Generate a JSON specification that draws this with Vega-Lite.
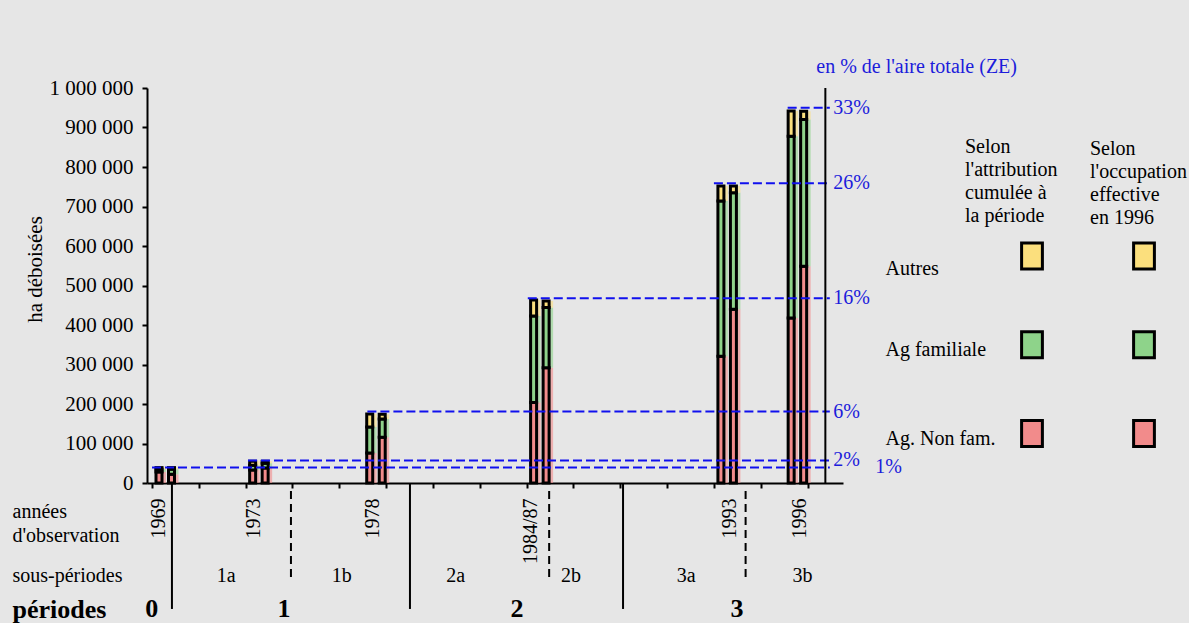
{
"$schema": "https://vega.github.io/schema/vega-lite/v6.json",
"background": "#e6e6e6",
"autosize": {"type": "pad"},
"padding": {"left": 12, "top": 57, "right": 2, "bottom": 0},
"columns": 2,
"spacing": {"row": 0, "column": 189},
"bounds": "flush",
"align": "each",
"resolve": {"scale": {"x": "independent", "y": "independent", "fill": "independent"}},
"datasets": {
"barres": [
{"annee": "1969", "an": 1969, "serie": "attribution", "cat": "Ag. Non fam.", "rang": 1, "ha": 28000},
{"annee": "1969", "an": 1969, "serie": "attribution", "cat": "Ag familiale", "rang": 2, "ha": 7000},
{"annee": "1969", "an": 1969, "serie": "attribution", "cat": "Autres", "rang": 3, "ha": 4000},
{"annee": "1969", "an": 1969, "serie": "occupation", "cat": "Ag. Non fam.", "rang": 1, "ha": 22000},
{"annee": "1969", "an": 1969, "serie": "occupation", "cat": "Ag familiale", "rang": 2, "ha": 13000},
{"annee": "1969", "an": 1969, "serie": "occupation", "cat": "Autres", "rang": 3, "ha": 4000},
{"annee": "1973", "an": 1973, "serie": "attribution", "cat": "Ag. Non fam.", "rang": 1, "ha": 33000},
{"annee": "1973", "an": 1973, "serie": "attribution", "cat": "Ag familiale", "rang": 2, "ha": 12000},
{"annee": "1973", "an": 1973, "serie": "attribution", "cat": "Autres", "rang": 3, "ha": 10000},
{"annee": "1973", "an": 1973, "serie": "occupation", "cat": "Ag. Non fam.", "rang": 1, "ha": 38000},
{"annee": "1973", "an": 1973, "serie": "occupation", "cat": "Ag familiale", "rang": 2, "ha": 12000},
{"annee": "1973", "an": 1973, "serie": "occupation", "cat": "Autres", "rang": 3, "ha": 5000},
{"annee": "1978", "an": 1978, "serie": "attribution", "cat": "Ag. Non fam.", "rang": 1, "ha": 76000},
{"annee": "1978", "an": 1978, "serie": "attribution", "cat": "Ag familiale", "rang": 2, "ha": 66000},
{"annee": "1978", "an": 1978, "serie": "attribution", "cat": "Autres", "rang": 3, "ha": 33000},
{"annee": "1978", "an": 1978, "serie": "occupation", "cat": "Ag. Non fam.", "rang": 1, "ha": 116000},
{"annee": "1978", "an": 1978, "serie": "occupation", "cat": "Ag familiale", "rang": 2, "ha": 46000},
{"annee": "1978", "an": 1978, "serie": "occupation", "cat": "Autres", "rang": 3, "ha": 12000},
{"annee": "1984/87", "an": 1985, "serie": "attribution", "cat": "Ag. Non fam.", "rang": 1, "ha": 204000},
{"annee": "1984/87", "an": 1985, "serie": "attribution", "cat": "Ag familiale", "rang": 2, "ha": 219000},
{"annee": "1984/87", "an": 1985, "serie": "attribution", "cat": "Autres", "rang": 3, "ha": 40000},
{"annee": "1984/87", "an": 1985, "serie": "occupation", "cat": "Ag. Non fam.", "rang": 1, "ha": 292000},
{"annee": "1984/87", "an": 1985, "serie": "occupation", "cat": "Ag familiale", "rang": 2, "ha": 152000},
{"annee": "1984/87", "an": 1985, "serie": "occupation", "cat": "Autres", "rang": 3, "ha": 17000},
{"annee": "1993", "an": 1993, "serie": "attribution", "cat": "Ag. Non fam.", "rang": 1, "ha": 321000},
{"annee": "1993", "an": 1993, "serie": "attribution", "cat": "Ag familiale", "rang": 2, "ha": 393000},
{"annee": "1993", "an": 1993, "serie": "attribution", "cat": "Autres", "rang": 3, "ha": 38000},
{"annee": "1993", "an": 1993, "serie": "occupation", "cat": "Ag. Non fam.", "rang": 1, "ha": 440000},
{"annee": "1993", "an": 1993, "serie": "occupation", "cat": "Ag familiale", "rang": 2, "ha": 295000},
{"annee": "1993", "an": 1993, "serie": "occupation", "cat": "Autres", "rang": 3, "ha": 17000},
{"annee": "1996", "an": 1996, "serie": "attribution", "cat": "Ag. Non fam.", "rang": 1, "ha": 418000},
{"annee": "1996", "an": 1996, "serie": "attribution", "cat": "Ag familiale", "rang": 2, "ha": 460000},
{"annee": "1996", "an": 1996, "serie": "attribution", "cat": "Autres", "rang": 3, "ha": 64000},
{"annee": "1996", "an": 1996, "serie": "occupation", "cat": "Ag. Non fam.", "rang": 1, "ha": 549000},
{"annee": "1996", "an": 1996, "serie": "occupation", "cat": "Ag familiale", "rang": 2, "ha": 371000},
{"annee": "1996", "an": 1996, "serie": "occupation", "cat": "Autres", "rang": 3, "ha": 21000}
],
"niveaux": [
{"pct": "1%", "an": 1969, "ha": 39500},
{"pct": "2%", "an": 1973.1, "ha": 57000},
{"pct": "6%", "an": 1978.2, "ha": 181000},
{"pct": "16%", "an": 1985.05, "ha": 468000},
{"pct": "26%", "an": 1993, "ha": 759000},
{"pct": "33%", "an": 1996.15, "ha": 950000}
],
"annees": [
{"annee": "1969", "an": 1969},
{"annee": "1973", "an": 1973},
{"annee": "1978", "an": 1978},
{"annee": "1984/87", "an": 1984.65},
{"annee": "1993", "an": 1993.05},
{"annee": "1996", "an": 1996}
],
"sousperiodes": [
{"label": "1a", "an": 1972.33},
{"label": "1b", "an": 1977.2},
{"label": "2a", "an": 1982.0},
{"label": "2b", "an": 1986.85},
{"label": "3a", "an": 1991.7},
{"label": "3b", "an": 1996.6}
],
"periodes": [
{"label": "0", "an": 1969.2},
{"label": "1", "an": 1974.77},
{"label": "2", "an": 1984.58},
{"label": "3", "an": 1993.84}
],
"separateurs": [
{"type": "plein", "an": 1970.05},
{"type": "plein", "an": 1980.07},
{"type": "plein", "an": 1989.04},
{"type": "tirets", "an": 1975.06},
{"type": "tirets", "an": 1985.93},
{"type": "tirets", "an": 1994.2}
],
"legende": [
{"cat": "Autres", "colonne": "attribution"},
{"cat": "Ag familiale", "colonne": "attribution"},
{"cat": "Ag. Non fam.", "colonne": "attribution"},
{"cat": "Autres", "colonne": "occupation"},
{"cat": "Ag familiale", "colonne": "occupation"},
{"cat": "Ag. Non fam.", "colonne": "occupation"}
],
"entetes": [
{"colonne": "attribution", "texte": "Selon\nl'attribution\ncumulée à\nla période"},
{"colonne": "occupation", "texte": "Selon\nl'occupation\neffective\nen 1996"}
]
},
"concat": [
{
"width": 696,
"height": 395,
"title": {"text": "en % de l'aire totale (ZE)", "anchor": "end", "frame": "group", "dx": 174, "offset": -20, "baseline": "bottom", "color": "#1c1cdb", "font": "Liberation Serif", "fontSize": 20, "fontWeight": "normal"},
"layer": [
{
"data": {"name": "barres"},
"transform": [{"filter": "datum.serie === 'attribution'"}],
"mark": {"type": "bar", "width": 9, "xOffset": 9.5, "opacity": 0.6},
"encoding": {
"x": {"field": "an", "type": "quantitative", "scale": {"domain": [1969, 1998.3], "nice": false, "zero": false},
"axis": {"values": [1969,1970,1971,1972,1973,1974,1975,1976,1977,1978,1979,1980,1981,1982,1983,1984,1985,1986,1987,1988,1989,1990,1991,1992,1993,1994,1995,1996,1997], "labels": false, "title": null, "tickSize": 5, "tickWidth": 2, "domainWidth": 2, "grid": false}},
"y": {"field": "ha", "type": "quantitative", "stack": "zero", "title": "ha déboisées", "scale": {"domain": [0, 1000000], "nice": false, "zero": true},
"axis": {"values": [0,100000,200000,300000,400000,500000,600000,700000,800000,900000,1000000], "tickCount": 11, "format": ",d", "title": "ha déboisées", "titlePadding": 4, "titleY": 181, "labelPadding": 9, "tickSize": 5, "tickWidth": 2, "domainWidth": 2, "labelFontSize": 21, "titleFontSize": 21, "titleFontWeight": "normal", "labelFlush": false, "labelOverlap": false, "labelSeparation": 0, "grid": false}},
"fill": {"field": "cat", "type": "nominal", "scale": {"domain": ["Ag. Non fam.", "Ag familiale", "Autres"], "range": ["#f28b8b", "#8ed38a", "#fbdf7d"]}, "legend": null},
"order": {"field": "rang", "type": "quantitative"}
}
},
{
"data": {"name": "barres"},
"transform": [{"filter": "datum.serie === 'occupation'"}],
"mark": {"type": "bar", "width": 9, "xOffset": 22, "opacity": 0.6},
"encoding": {
"x": {"field": "an", "type": "quantitative"},
"y": {"field": "ha", "type": "quantitative", "stack": "zero", "title": "ha déboisées"},
"fill": {"field": "cat", "type": "nominal", "legend": null},
"order": {"field": "rang", "type": "quantitative"}
}
},
{
"data": {"name": "barres"},
"transform": [{"filter": "datum.serie === 'attribution'"}],
"mark": {"type": "bar", "width": 6, "xOffset": 7, "stroke": "black", "strokeWidth": 3},
"encoding": {
"x": {"field": "an", "type": "quantitative"},
"y": {"field": "ha", "type": "quantitative", "stack": "zero", "title": "ha déboisées"},
"fill": {"field": "cat", "type": "nominal", "legend": null},
"order": {"field": "rang", "type": "quantitative"}
}
},
{
"data": {"name": "barres"},
"transform": [{"filter": "datum.serie === 'occupation'"}],
"mark": {"type": "bar", "width": 6, "xOffset": 19.5, "stroke": "black", "strokeWidth": 3},
"encoding": {
"x": {"field": "an", "type": "quantitative"},
"y": {"field": "ha", "type": "quantitative", "stack": "zero", "title": "ha déboisées"},
"fill": {"field": "cat", "type": "nominal", "legend": null},
"order": {"field": "rang", "type": "quantitative"}
}
},
{
"data": {"name": "niveaux"},
"mark": {"type": "rule", "color": "#1010ee", "strokeWidth": 2, "strokeDash": [9, 4]},
"encoding": {
"x": {"field": "an", "type": "quantitative"},
"x2": {"datum": 1997.95},
"y": {"field": "ha", "type": "quantitative", "title": "ha déboisées"}
}
},
{
"data": {"values": [{}]},
"mark": {"type": "rule", "color": "black", "strokeWidth": 2},
"encoding": {
"x": {"datum": 1997.76, "type": "quantitative"},
"y": {"datum": 0, "type": "quantitative", "title": "ha déboisées"},
"y2": {"datum": 1000000}
}
},
{
"data": {"name": "niveaux"},
"transform": [{"filter": "datum.pct !== '1%'"}],
"mark": {"type": "text", "align": "left", "baseline": "middle", "dx": 8, "color": "#1c1cdb", "fontSize": 20},
"encoding": {
"x": {"datum": 1997.76, "type": "quantitative"},
"y": {"field": "ha", "type": "quantitative", "title": "ha déboisées"},
"text": {"field": "pct"}
}
},
{
"data": {"name": "niveaux"},
"transform": [{"filter": "datum.pct === '1%'"}],
"mark": {"type": "text", "align": "left", "baseline": "middle", "dx": 50, "color": "#1c1cdb", "fontSize": 20},
"encoding": {
"x": {"datum": 1997.76, "type": "quantitative"},
"y": {"field": "ha", "type": "quantitative", "title": "ha déboisées"},
"text": {"field": "pct"}
}
}
]
},
{
"width": 112,
"height": 395,
"layer": [
{
"data": {"name": "entetes"},
"transform": [{"filter": "datum.colonne === 'attribution'"}],
"mark": {"type": "text", "align": "left", "baseline": "top", "lineBreak": "\n", "lineHeight": 23, "dx": -67, "dy": -30, "fontSize": 20},
"encoding": {
"x": {"field": "colonne", "type": "nominal", "scale": {"type": "point", "domain": ["attribution", "occupation"], "padding": 0}, "axis": null},
"y": {"datum": "entete", "type": "nominal", "scale": {"type": "point", "domain": ["entete", "Autres", "Ag familiale", "Ag. Non fam."], "padding": 0.725, "align": 0.616},
"axis": {"orient": "left", "title": null, "ticks": false, "domain": false, "labelAlign": "left", "labelBaseline": "middle", "labelPadding": 147, "labelFontSize": 20, "labelOverlap": false, "labelBound": false, "labelExpr": "datum.value === 'entete' ? '' : datum.label", "labelOffset": {"condition": {"test": "datum.value === 'Autres'", "value": 12}, "value": 5}}},
"text": {"field": "texte"}
}
},
{
"data": {"name": "entetes"},
"transform": [{"filter": "datum.colonne === 'occupation'"}],
"mark": {"type": "text", "align": "left", "baseline": "top", "lineBreak": "\n", "lineHeight": 23, "dx": -54, "dy": -28, "fontSize": 20},
"encoding": {
"x": {"field": "colonne", "type": "nominal"},
"y": {"datum": "entete", "type": "nominal"},
"text": {"field": "texte"}
}
},
{
"data": {"name": "legende"},
"mark": {"type": "point", "shape": "M-0.8,-1H0.8V1H-0.8Z", "size": 676, "filled": true, "stroke": "black", "strokeWidth": 3, "opacity": 1},
"encoding": {
"x": {"field": "colonne", "type": "nominal"},
"y": {"field": "cat", "type": "nominal"},
"fill": {"field": "cat", "type": "nominal", "scale": {"domain": ["Ag. Non fam.", "Ag familiale", "Autres"], "range": ["#f28b8b", "#8ed38a", "#fbdf7d"]}, "legend": null}
}
}
]
},
{
"width": 696,
"height": 141,
"layer": [
{
"data": {"name": "separateurs"},
"transform": [{"filter": "datum.type === 'plein'"}],
"mark": {"type": "rule", "color": "black", "strokeWidth": 2},
"encoding": {
"x": {"field": "an", "type": "quantitative", "scale": {"domain": [1969, 1998.3], "nice": false, "zero": false}, "axis": null},
"y": {"datum": "années", "type": "nominal", "bandPosition": 0, "scale": {"type": "band", "domain": ["années", "sous-périodes", "périodes"], "paddingInner": 0, "paddingOuter": 0},
"axis": {"orient": "left", "title": null, "ticks": false, "domain": false, "labelAlign": "left", "labelBaseline": "middle", "labelPadding": 135, "labelLineHeight": 24, "labelOverlap": false, "labelBound": false, "labelColor": "black",
"labelExpr": "datum.value === 'années' ? ['années', \"d'observation\"] : datum.label",
"labelFontSize": {"condition": {"test": "datum.value === 'périodes'", "value": 26}, "value": 20},
"labelFontWeight": {"condition": {"test": "datum.value === 'périodes'", "value": "bold"}, "value": "normal"},
"labelOffset": {"condition": [{"test": "datum.value === 'années'", "value": 5.5}, {"test": "datum.value === 'sous-périodes'", "value": 22}], "value": 9}}},
"y2": {"datum": "périodes", "bandPosition": 0.68}
}
},
{
"data": {"name": "separateurs"},
"transform": [{"filter": "datum.type === 'tirets'"}],
"mark": {"type": "rule", "color": "black", "strokeWidth": 2, "strokeDash": [8, 5]},
"encoding": {
"x": {"field": "an", "type": "quantitative"},
"y": {"datum": "années", "type": "nominal", "bandPosition": 0.17},
"y2": {"datum": "périodes", "bandPosition": 0.1}
}
},
{
"data": {"name": "annees"},
"mark": {"type": "text", "angle": 270, "align": "right", "baseline": "middle", "xOffset": 12, "yOffset": -8, "fontSize": 20},
"encoding": {
"x": {"field": "an", "type": "quantitative"},
"y": {"datum": "années", "type": "nominal"},
"text": {"field": "annee"}
}
},
{
"data": {"name": "sousperiodes"},
"mark": {"type": "text", "align": "center", "baseline": "middle", "yOffset": 22, "fontSize": 20},
"encoding": {
"x": {"field": "an", "type": "quantitative"},
"y": {"datum": "sous-périodes", "type": "nominal"},
"text": {"field": "label"}
}
},
{
"data": {"name": "periodes"},
"mark": {"type": "text", "align": "center", "baseline": "middle", "yOffset": 8, "fontSize": 26, "fontWeight": "bold"},
"encoding": {
"x": {"field": "an", "type": "quantitative"},
"y": {"datum": "périodes", "type": "nominal"},
"text": {"field": "label"}
}
}
]
}
],
"config": {
"view": {"stroke": null},
"font": "Liberation Serif",
"text": {"font": "Liberation Serif", "fontSize": 20, "color": "black"},
"axis": {"labelFont": "Liberation Serif", "titleFont": "Liberation Serif", "labelColor": "black", "titleColor": "black", "domainColor": "black", "tickColor": "black", "grid": false, "labelFontSize": 20, "titleFontSize": 20, "titleFontWeight": "normal"},
"axisY": {"labelOverlap": false},
"title": {"font": "Liberation Serif"},
"locale": {"number": {"decimal": ",", "thousands": "\u00a0", "grouping": [3], "currency": ["", " €"]}}
}
}
